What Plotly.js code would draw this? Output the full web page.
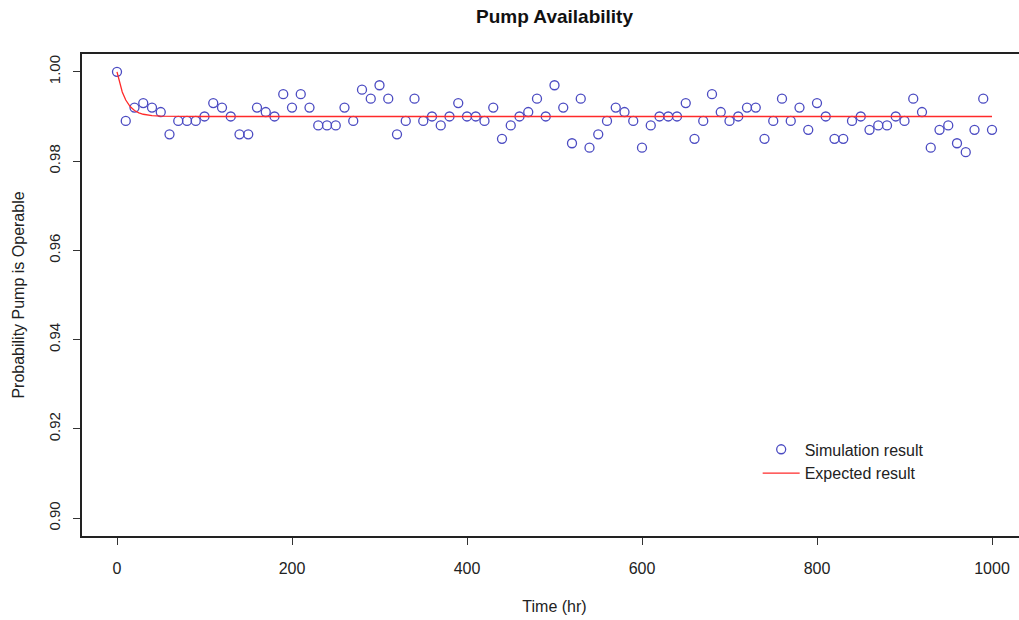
<!DOCTYPE html>
<html>
<head>
<meta charset="utf-8">
<script src="https://cdn.plot.ly/plotly-3.0.1.min.js"></script>
<style>
html, body { margin: 0; padding: 0; overflow: hidden; background: #fff; }
#chart { width: 1030px; height: 620px; }
</style>
</head>
<body>
<div id="chart"></div>
<script>
// Simulation results: time (hr) and probability pump is operable
const simTime = [0,10,20,30,40,50,60,70,80,90,100,110,120,130,140,150,160,170,180,190,200,
  210,220,230,240,250,260,270,280,290,300,310,320,330,340,350,360,370,380,390,400,
  410,420,430,440,450,460,470,480,490,500,510,520,530,540,550,560,570,580,590,600,
  610,620,630,640,650,660,670,680,690,700,710,720,730,740,750,760,770,780,790,800,
  810,820,830,840,850,860,870,880,890,900,910,920,930,940,950,960,970,980,990,1000];
const simValue = [1.000,0.989,0.992,0.993,0.992,0.991,0.986,0.989,0.989,0.989,0.990,
  0.993,0.992,0.990,0.986,0.986,0.992,0.991,0.990,0.995,0.992,
  0.995,0.992,0.988,0.988,0.988,0.992,0.989,0.996,0.994,0.997,
  0.994,0.986,0.989,0.994,0.989,0.990,0.988,0.990,0.993,0.990,
  0.990,0.989,0.992,0.985,0.988,0.990,0.991,0.994,0.990,0.997,
  0.992,0.984,0.994,0.983,0.986,0.989,0.992,0.991,0.989,0.983,
  0.988,0.990,0.990,0.990,0.993,0.985,0.989,0.995,0.991,0.989,
  0.990,0.992,0.992,0.985,0.989,0.994,0.989,0.992,0.987,0.993,
  0.990,0.985,0.985,0.989,0.990,0.987,0.988,0.988,0.990,0.989,
  0.994,0.991,0.983,0.987,0.988,0.984,0.982,0.987,0.994,0.987];

// Expected (analytical) availability curve
const expTime = [0,3,6,10,15,20,25,30,40,50,70,100,1000];
const expValue = [1.0,0.99741,0.99549,0.99368,0.99223,0.99135,0.99082,0.99050,0.99018,0.99007,0.99001,0.99000,0.99000];

// Tick labels
const xTickVals = [0,200,400,600,800,1000];
const xTickText = ["0","200","400","600","800","1000"];
const yTickVals = [0.90,0.92,0.94,0.96,0.98,1.00];
const yTickText = ["0.90","0.92","0.94","0.96","0.98","1.00"];

const FONT = "'Liberation Sans', Arial, Helvetica, sans-serif";

const traces = [
  {
    x: simTime, y: simValue, type: 'scatter', mode: 'markers',
    name: 'Simulation result',
    marker: { symbol: 'circle-open', size: 9, color: '#4b4bc2', line: { width: 1.3, color: '#4b4bc2' } }
  },
  {
    x: expTime, y: expValue, type: 'scatter', mode: 'lines',
    name: 'Expected result',
    line: { color: '#ff2a2a', width: 1.3 }
  }
];

const axisCommon = {
  showgrid: false, zeroline: false,
  showline: true, mirror: true, linecolor: '#222', linewidth: 2,
  ticks: 'outside', ticklen: 7, tickwidth: 1, tickcolor: '#333',
  tickfont: { family: FONT, size: 16, color: '#222' }
};

const layout = {
  width: 1030, height: 620,
  paper_bgcolor: '#fff', plot_bgcolor: '#fff',
  margin: { l: 82, r: 3, t: 54, b: 84 },
  font: { family: FONT, color: '#222' },
  title: {
    text: '<b>Pump Availability</b>',
    font: { family: FONT, size: 19, color: '#111' },
    xref: 'paper', x: 0.5, xanchor: 'center',
    yref: 'container', y: 1 - 16/620, yanchor: 'middle'
  },
  xaxis: Object.assign({}, axisCommon, {
    range: [-40, 1040],
    tickmode: 'array', tickvals: xTickVals, ticktext: xTickText,
    ticklabelstandoff: 10,
    title: { text: 'Time (hr)', font: { family: FONT, size: 16, color: '#222' }, standoff: 25 }
  }),
  yaxis: Object.assign({}, axisCommon, {
    range: [0.896, 1.004],
    tickmode: 'array', tickvals: yTickVals, ticktext: yTickText,
    tickangle: -90,
    ticklabelstandoff: 7,
    tickfont: { family: FONT, size: 15, color: '#222' },
    title: { text: 'Probability Pump is Operable', font: { family: FONT, size: 16, color: '#222' }, standoff: 17 }
  }),
  showlegend: true,
  legend: {
    x: 0.715, y: 0.215, xanchor: 'left', yanchor: 'top',
    bgcolor: 'rgba(0,0,0,0)', borderwidth: 0,
    itemwidth: 37,
    font: { family: FONT, size: 16, color: '#222' },
    tracegroupgap: 0
  }
};

Plotly.newPlot('chart', traces, layout, { staticPlot: true, displayModeBar: false });
</script>
</body>
</html>
